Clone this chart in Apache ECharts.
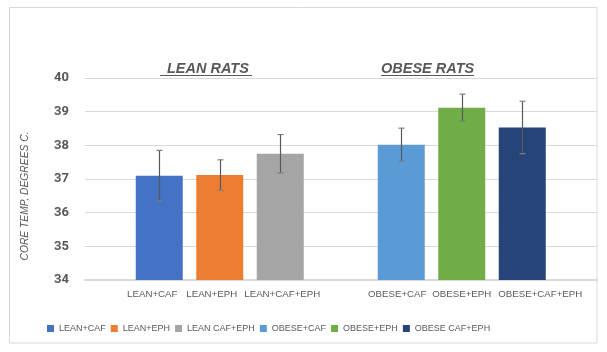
<!DOCTYPE html>
<html>
<head>
<meta charset="utf-8">
<script src="https://cdn.jsdelivr.net/npm/echarts@6/dist/echarts.min.js"></script>
<style>
  html, body { margin: 0; padding: 0; background: #fff; }
  #main { width: 607px; height: 352px; }
</style>
</head>
<body>
<div id="main"></div>
<script>
// 类目（中间留一个空位分隔两组）
var categories = ['LEAN+CAF', 'LEAN+EPH', 'LEAN+CAF+EPH', '', 'OBESE+CAF', 'OBESE+EPH', 'OBESE+CAF+EPH'];
var barCategories = ['LEAN+CAF', 'LEAN+EPH', 'LEAN+CAF+EPH', 'OBESE+CAF', 'OBESE+EPH', 'OBESE+CAF+EPH'];
var legendNames = ['LEAN+CAF', 'LEAN+EPH', 'LEAN CAF+EPH', 'OBESE+CAF', 'OBESE+EPH', 'OBESE CAF+EPH'];
var means = [37.1, 37.12, 37.75, 38.02, 39.12, 38.53];
var errors = [0.75, 0.45, 0.57, 0.49, 0.4, 0.78];
var yTicks = [34, 35, 36, 37, 38, 39, 40];
var colors = ['#4472C4', '#ED7D31', '#A5A5A5', '#5B9BD5', '#70AD47', '#264478'];

var font = '"Liberation Sans", Arial, sans-serif';
var textGray = '#595959';

// 标签水平偏移（像素，负为左移），避免重叠
var labelShift = { 'LEAN+CAF': -7, 'LEAN+EPH': -8, 'LEAN+CAF+EPH': 2, 'OBESE+CAF': -4, 'OBESE+EPH': 0, 'OBESE+CAF+EPH': 18 };

var chart = echarts.init(document.getElementById('main'));

var barSeries = legendNames.map(function (name, i) {
    return {
        name: name,
        type: 'bar',
        xAxisIndex: 1,
        yAxisIndex: 1,
        barWidth: 47,
        barGap: '-100%',
        itemStyle: { color: colors[i] },
        data: categories.map(function (c) {
            return c === barCategories[i] ? means[i] : '-';
        })
    };
});

//误差线
var errData = barCategories.map(function (c, i) {
    return [categories.indexOf(c), means[i] - errors[i], means[i] + errors[i]];
});

var errSeries = {
    type: 'custom',
    xAxisIndex: 1,
    yAxisIndex: 1,
    z: 10,
    silent: true,
    data: errData,
    renderItem: function (params, api) {
        var lo = api.coord([api.value(0), api.value(1)]);
        var hi = api.coord([api.value(0), api.value(2)]);
        var w = 3;
        var x = Math.round(lo[0]) + 0.5;
        var st = { stroke: '#595959', lineWidth: 1.2 };
        var cap = { stroke: '#7f7f7f', lineWidth: 1.2 };
        return {
            type: 'group',
            children: [
                { type: 'line', shape: { x1: x, y1: lo[1], x2: x, y2: hi[1] }, style: st },
                { type: 'line', shape: { x1: x - w, y1: lo[1], x2: x + w, y2: lo[1] }, style: cap },
                { type: 'line', shape: { x1: x - w, y1: hi[1], x2: x + w, y2: hi[1] }, style: cap }
            ]
        };
    }
};

var rich = {};
categories.forEach(function (c, i) {
    var s = labelShift[c] || 0;
    rich['l' + i] = {
        fontSize: 9.7, color: textGray, fontFamily: font,
        padding: s >= 0 ? [0, 0, 0, 2 * s] : [0, -2 * s, 0, 0]
    };
});

var option = {
    animation: false,
    backgroundColor: '#fff',
    textStyle: { fontFamily: font },
    grid: [
        { left: 85, right: 10, top: 78, bottom: 72 },
        { left: 129, right: 54.5, top: 78, bottom: 72 }
    ],
    legend: {
        data: legendNames,
        left: 42,
        top: 319,
        width: 560,
        icon: 'rect',
        itemWidth: 7,
        itemHeight: 7,
        itemGap: 5,
        textStyle: { color: textGray, fontSize: 9, fontFamily: font }
    },
    xAxis: [
        {
            gridIndex: 0, type: 'value', min: 0, max: 1,
            axisLine: { show: true, lineStyle: { color: '#d9d9d9', width: 2 } },
            axisTick: { show: false },
            axisLabel: { show: false },
            splitLine: { show: false }
        },
        {
            gridIndex: 1,
            type: 'category',
            data: categories,
            axisLine: { show: false },
            axisTick: { show: false },
            axisLabel: {
                color: textGray, fontSize: 9.7, margin: 9, interval: 0, fontFamily: font,
                formatter: function (v, i) { return v ? '{l' + i + '|' + v + '}' : ''; },
                rich: rich
            }
        }
    ],
    yAxis: [
        {
            gridIndex: 0,
            type: 'value',
            min: yTicks[0],
            max: yTicks[yTicks.length - 1],
            interval: 1,
            axisLine: { show: false },
            axisTick: { show: false },
            axisLabel: { color: textGray, fontSize: 13, fontWeight: 'bold', margin: 16, fontFamily: 'Roboto, sans-serif' },
            splitLine: { lineStyle: { color: '#d9d9d9', width: 1 } }
        },
        {
            gridIndex: 1,
            type: 'value',
            min: yTicks[0],
            max: yTicks[yTicks.length - 1],
            interval: 1,
            show: false
        }
    ],
    graphic: [
        {
            type: 'rect',
            shape: { x: 9.5, y: 7.5, width: 587.5, height: 335.5 },
            style: { fill: 'none', stroke: '#d9d9d9', lineWidth: 1 },
            silent: true
        },
        {
            type: 'text',
            x: 25, y: 196,
            rotation: Math.PI / 2,
            style: {
                text: 'CORE TEMP, DEGREES C.', fill: textGray,
                font: 'italic 10.3px ' + font, align: 'center', verticalAlign: 'middle'
            }
        },
        {
            type: 'text',
            x: 167, y: 61,
            style: { text: 'LEAN RATS', fill: textGray, font: 'italic bold 14.5px ' + font }
        },
        {
            type: 'line',
            shape: { x1: 160, y1: 75.5, x2: 252, y2: 75.5 },
            style: { stroke: textGray, lineWidth: 1 }
        },
        {
            type: 'text',
            x: 381, y: 61,
            style: { text: 'OBESE RATS', fill: textGray, font: 'italic bold 14.5px ' + font }
        },
        {
            type: 'line',
            shape: { x1: 381, y1: 75.5, x2: 474, y2: 75.5 },
            style: { stroke: textGray, lineWidth: 1 }
        }
    ],
    series: barSeries.concat([errSeries])
};

chart.setOption(option);
</script>
</body>
</html>
